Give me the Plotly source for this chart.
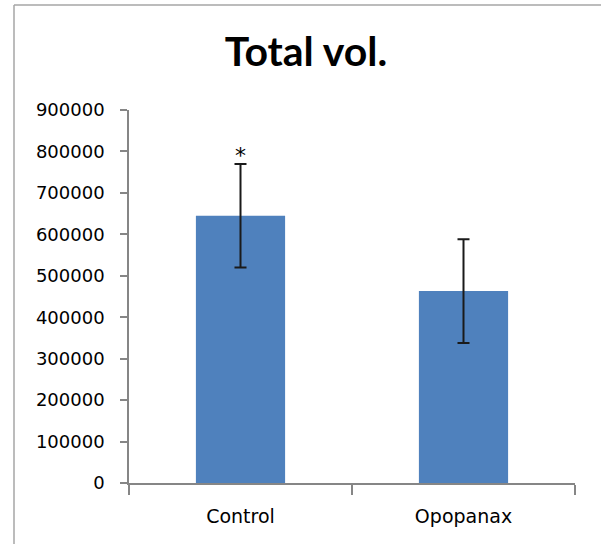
import plotly.graph_objects as go

categories = ["Control", "Opopanax"]
values = [645000, 463000]
errors = [125000, 125000]
tick_vals = [0, 100000, 200000, 300000, 400000, 500000, 600000, 700000, 800000, 900000]
tick_text = [str(v) for v in tick_vals]

W, H = 601, 544
L, R, T, B = 129, 26, 110, 61
pw, ph = W - L - R, H - T - B

def px2paper_x(px):
    return (px - L) / pw

def px2paper_y(py):
    return (H - B - py) / ph

fig = go.Figure()
fig.add_trace(go.Bar(
    x=categories, y=values,
    marker=dict(color="#4F81BD", line=dict(width=0)),
    error_y=dict(type="data", array=errors, visible=True,
                 color="#1a1a1a", thickness=2, width=6),
    width=0.4,
))

fig.add_annotation(x=categories[0], y=values[0] + errors[0], text="*",
                   showarrow=False, yanchor="bottom", yshift=-6,
                   font=dict(family="DejaVu Sans", size=22, color="#000000"))

gray = "#a6a6a6"
fig.add_shape(type="line", xref="paper", yref="paper",
              x0=px2paper_x(14), x1=px2paper_x(14),
              y0=px2paper_y(5), y1=px2paper_y(560),
              line=dict(color=gray, width=1.5))
fig.add_shape(type="line", xref="paper", yref="paper",
              x0=px2paper_x(14), x1=px2paper_x(610),
              y0=px2paper_y(5), y1=px2paper_y(5),
              line=dict(color=gray, width=1.5))

fig.update_layout(
    width=W, height=H,
    margin=dict(l=L, r=R, t=T, b=B),
    paper_bgcolor="white", plot_bgcolor="white",
    showlegend=False,
    title=dict(text="<b>Total vol.</b>", x=306 / W, xanchor="center",
               xref="container", y=(H - 52) / H, yanchor="middle",
               font=dict(family="Lato", size=41, color="#000000")),
    xaxis=dict(showline=True, linecolor="#868686", linewidth=1.5,
               ticks="outside", tickson="boundaries", ticklen=10,
               tickcolor="#868686", tickwidth=1.5,
               ticklabelstandoff=15,
               tickfont=dict(family="DejaVu Sans", size=19, color="#000000"),
               showgrid=False, zeroline=False),
    yaxis=dict(range=[0, 900000], tickvals=tick_vals, ticktext=tick_text,
               showline=True, linecolor="#868686", linewidth=1.5,
               ticks="outside", ticklen=7, tickcolor="#868686", tickwidth=1.5,
               ticklabelstandoff=12,
               tickfont=dict(family="DejaVu Sans", size=18, color="#000000"),
               showgrid=False, zeroline=False),
)

fig.write_html("out.html", config={"displayModeBar": False},
               post_script="document.body.style.margin='0';document.body.style.padding='0';")
